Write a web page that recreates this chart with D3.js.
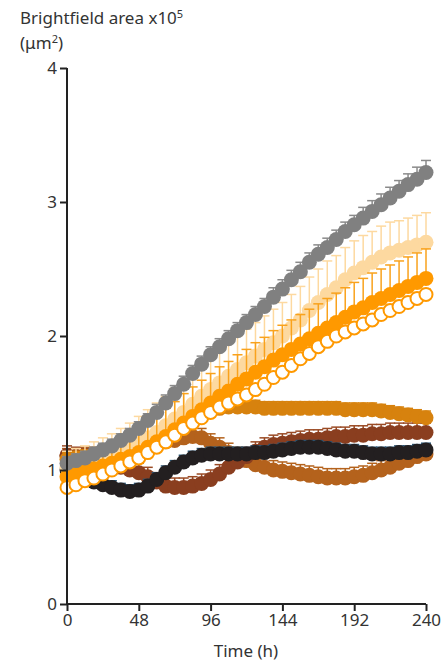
<!DOCTYPE html>
<html><head><meta charset="utf-8">
<script src="https://cdn.jsdelivr.net/npm/d3@7/dist/d3.min.js"></script>
<style>body{margin:0;background:#fff;} svg{display:block;font-family:"Noto Sans",sans-serif;}</style>
</head><body><svg id="c" width="442" height="664"></svg>
<script>
const times = d3.range(0, 241, 6);
const xTicks = [0, 48, 96, 144, 192, 240];
const yTicks = [0, 1, 2, 3, 4];

const ochre = [1.10,1.10,1.11,1.11,1.12,1.13,1.14,1.15,1.16,1.18,1.19,1.21,1.22,1.24,1.25,1.24,1.20,1.17,1.13,1.10,1.07,1.04,1.02,1.00,0.99,0.98,0.97,0.96,0.95,0.94,0.94,0.94,0.95,0.96,0.98,1.00,1.02,1.05,1.07,1.10,1.12];
const ochreErr = [0.06,0.06,0.06,0.06,0.06,0.06,0.06,0.06,0.06,0.06,0.06,0.06,0.06,0.06,0.07,0.07,0.07,0.07,0.07,0.07,0.07,0.07,0.07,0.07,0.07,0.07,0.07,0.07,0.07,0.07,0.07,0.07,0.07,0.07,0.07,0.07,0.07,0.07,0.07,0.07,0.07];
const brown = [1.11,1.10,1.09,1.08,1.06,1.04,1.02,1.00,0.98,0.95,0.91,0.88,0.87,0.87,0.88,0.90,0.93,0.97,1.02,1.06,1.10,1.14,1.17,1.19,1.20,1.21,1.22,1.23,1.23,1.24,1.25,1.25,1.26,1.26,1.27,1.27,1.28,1.28,1.28,1.28,1.28];
const brownErr = [0.07,0.07,0.07,0.07,0.07,0.07,0.07,0.07,0.07,0.07,0.07,0.07,0.07,0.07,0.07,0.07,0.07,0.07,0.07,0.07,0.07,0.07,0.07,0.07,0.07,0.07,0.07,0.07,0.07,0.07,0.07,0.07,0.07,0.07,0.07,0.07,0.07,0.07,0.07,0.07,0.07];
const black = [1.00,0.97,0.94,0.91,0.89,0.87,0.85,0.84,0.85,0.88,0.93,0.98,1.02,1.06,1.09,1.11,1.12,1.12,1.12,1.12,1.12,1.13,1.13,1.14,1.15,1.16,1.17,1.17,1.17,1.16,1.15,1.14,1.14,1.13,1.12,1.12,1.12,1.13,1.13,1.14,1.15];
const blackErr = [0.05,0.05,0.05,0.05,0.05,0.05,0.05,0.05,0.05,0.05,0.05,0.05,0.05,0.05,0.05,0.05,0.05,0.05,0.05,0.05,0.05,0.05,0.05,0.05,0.05,0.05,0.05,0.05,0.05,0.05,0.05,0.05,0.05,0.05,0.05,0.05,0.05,0.05,0.05,0.05,0.05];
const darkOrange = [1.08,1.09,1.10,1.11,1.12,1.13,1.15,1.16,1.18,1.20,1.23,1.25,1.28,1.32,1.36,1.40,1.44,1.46,1.47,1.47,1.47,1.47,1.46,1.46,1.46,1.46,1.46,1.46,1.46,1.46,1.46,1.45,1.45,1.45,1.45,1.44,1.43,1.42,1.41,1.40,1.39];
const darkOrangeErr = [0.05,0.05,0.05,0.05,0.05,0.05,0.05,0.05,0.05,0.05,0.05,0.05,0.05,0.05,0.05,0.05,0.05,0.05,0.05,0.05,0.05,0.05,0.05,0.05,0.05,0.05,0.05,0.05,0.05,0.05,0.05,0.05,0.05,0.05,0.05,0.05,0.05,0.05,0.05,0.05,0.05];
const peach = [1.02,1.03,1.04,1.06,1.08,1.10,1.13,1.16,1.20,1.24,1.28,1.33,1.38,1.43,1.49,1.55,1.60,1.65,1.70,1.75,1.80,1.85,1.90,1.95,2.00,2.06,2.12,2.19,2.25,2.31,2.36,2.42,2.47,2.51,2.55,2.59,2.62,2.64,2.66,2.68,2.70];
const peachErr = [0.12,0.13,0.14,0.15,0.16,0.17,0.18,0.19,0.20,0.21,0.22,0.22,0.23,0.23,0.24,0.24,0.25,0.25,0.25,0.25,0.25,0.25,0.25,0.25,0.25,0.25,0.25,0.25,0.25,0.25,0.24,0.24,0.24,0.24,0.23,0.23,0.23,0.22,0.22,0.22,0.22];
const orange = [0.95,0.97,0.99,1.01,1.03,1.05,1.08,1.10,1.13,1.17,1.21,1.25,1.30,1.35,1.40,1.45,1.50,1.55,1.59,1.64,1.68,1.73,1.77,1.82,1.86,1.90,1.94,1.98,2.02,2.06,2.10,2.14,2.18,2.21,2.25,2.28,2.31,2.34,2.37,2.40,2.43];
const orangeErr = [0.10,0.11,0.12,0.13,0.14,0.15,0.16,0.17,0.18,0.19,0.20,0.21,0.21,0.22,0.22,0.22,0.22,0.22,0.22,0.22,0.22,0.22,0.22,0.22,0.22,0.22,0.22,0.22,0.22,0.22,0.22,0.22,0.22,0.22,0.22,0.22,0.22,0.22,0.22,0.22,0.22];
const openC = [0.87,0.89,0.92,0.94,0.97,1.00,1.03,1.06,1.09,1.13,1.17,1.21,1.26,1.31,1.35,1.39,1.43,1.47,1.50,1.53,1.56,1.60,1.64,1.69,1.73,1.78,1.83,1.87,1.92,1.96,2.00,2.03,2.06,2.09,2.12,2.16,2.19,2.22,2.25,2.28,2.31];
const openErr = [0.04,0.04,0.04,0.04,0.04,0.04,0.04,0.04,0.04,0.04,0.04,0.04,0.04,0.04,0.04,0.04,0.04,0.04,0.04,0.04,0.04,0.04,0.04,0.04,0.04,0.04,0.04,0.04,0.04,0.04,0.04,0.04,0.04,0.04,0.04,0.04,0.04,0.04,0.04,0.04,0.04];
const gray = [1.05,1.07,1.09,1.12,1.15,1.18,1.22,1.26,1.31,1.37,1.43,1.50,1.57,1.64,1.72,1.79,1.86,1.92,1.98,2.04,2.10,2.16,2.22,2.29,2.35,2.42,2.48,2.55,2.61,2.66,2.72,2.78,2.83,2.88,2.93,2.98,3.03,3.08,3.13,3.17,3.22];
const grayErr = [0.05,0.05,0.05,0.05,0.05,0.05,0.05,0.05,0.05,0.05,0.06,0.06,0.06,0.06,0.06,0.06,0.06,0.06,0.06,0.06,0.06,0.06,0.06,0.07,0.07,0.07,0.07,0.07,0.07,0.07,0.07,0.07,0.07,0.08,0.08,0.08,0.08,0.08,0.08,0.09,0.09];

const series = [
  {v: ochre, e: ochreErr, fill: "#B4621C", stroke: "#B4621C", err: "#B4621C"},
  {v: brown, e: brownErr, fill: "#8A3E1F", stroke: "#8A3E1F", err: "#9A4A24"},
  {v: black, e: blackErr, fill: "#231F20", stroke: "#231F20", err: "#2B5472"},
  {v: darkOrange, e: darkOrangeErr, fill: "#D7820E", stroke: "#D7820E", err: "#D7820E"},
  {v: peach, e: peachErr, fill: "#FDD9A0", stroke: "#FDD9A0", err: "#FDD9A0"},
  {v: orange, e: orangeErr, fill: "#FF9900", stroke: "#FF9900", err: "#F9A21C"},
  {v: gray, e: grayErr, fill: "#808080", stroke: "#808080", err: "#8A8A8A"},
  {v: openC, e: openErr, fill: "#FFFFFF", stroke: "#FF9900", err: "#FF9900", open: true}
];

const svg = d3.select("#c");
const x = d3.scaleLinear().domain([0, 240]).range([67, 426]);
const y = d3.scaleLinear().domain([0, 4]).range([604, 68]);

series.forEach(s => {
  const g = svg.append("g");
  const pts = times.map((t, i) => ({t, v: s.v[i], e: s.e[i]}));
  g.selectAll("line.eb").data(pts).join("line")
    .attr("x1", d => x(d.t)).attr("x2", d => x(d.t))
    .attr("y1", d => y(d.v)).attr("y2", d => y(d.v + d.e))
    .attr("stroke", s.err).attr("stroke-width", 1.5);
  g.selectAll("line.cap").data(pts).join("line")
    .attr("x1", d => x(d.t) - 5).attr("x2", d => x(d.t) + 5)
    .attr("y1", d => y(d.v + d.e)).attr("y2", d => y(d.v + d.e))
    .attr("stroke", s.err).attr("stroke-width", 1.5);
  g.selectAll("circle").data(pts).join("circle")
    .attr("cx", d => x(d.t)).attr("cy", d => y(d.v))
    .attr("r", s.open ? 6.5 : 7.5)
    .attr("fill", s.fill)
    .attr("stroke", s.open ? s.stroke : "none")
    .attr("stroke-width", s.open ? 2 : 0);
});

const yAxis = svg.append("g").attr("transform", "translate(67,0)")
  .call(d3.axisLeft(y).tickValues(yTicks).tickFormat(d3.format("d")).tickSize(7).tickPadding(3));
const xAxis = svg.append("g").attr("transform", "translate(0,604)")
  .call(d3.axisBottom(x).tickValues(xTicks).tickSize(7).tickPadding(3));
[yAxis, xAxis].forEach(a => {
  a.select(".domain").attr("stroke", "#222").attr("stroke-width", 2);
  a.selectAll(".tick line").attr("stroke", "#222").attr("stroke-width", 2);
  a.selectAll("text").attr("fill", "#333").style("font-size", "17px").style("font-family", "Noto Sans");
});
yAxis.select(".domain").attr("d", "M0,604V68");
xAxis.select(".domain").attr("d", "M67,0H426");

const t1 = svg.append("text").attr("x", 20).attr("y", 24).attr("fill", "#333").style("font-size", "17px");
t1.append("tspan").text("Brightfield area x10");
t1.append("tspan").attr("dy", -6).style("font-size", "11px").text("5");
const t2 = svg.append("text").attr("x", 20).attr("y", 49).attr("fill", "#333").style("font-size", "17px");
t2.append("tspan").text("(μm");
t2.append("tspan").attr("dy", -6).style("font-size", "11px").text("2");
t2.append("tspan").attr("dy", 6).text(")");
svg.append("text").attr("x", 246).attr("y", 657).attr("text-anchor", "middle").attr("fill", "#333").style("font-size", "17px").text("Time (h)");
</script></body></html>
